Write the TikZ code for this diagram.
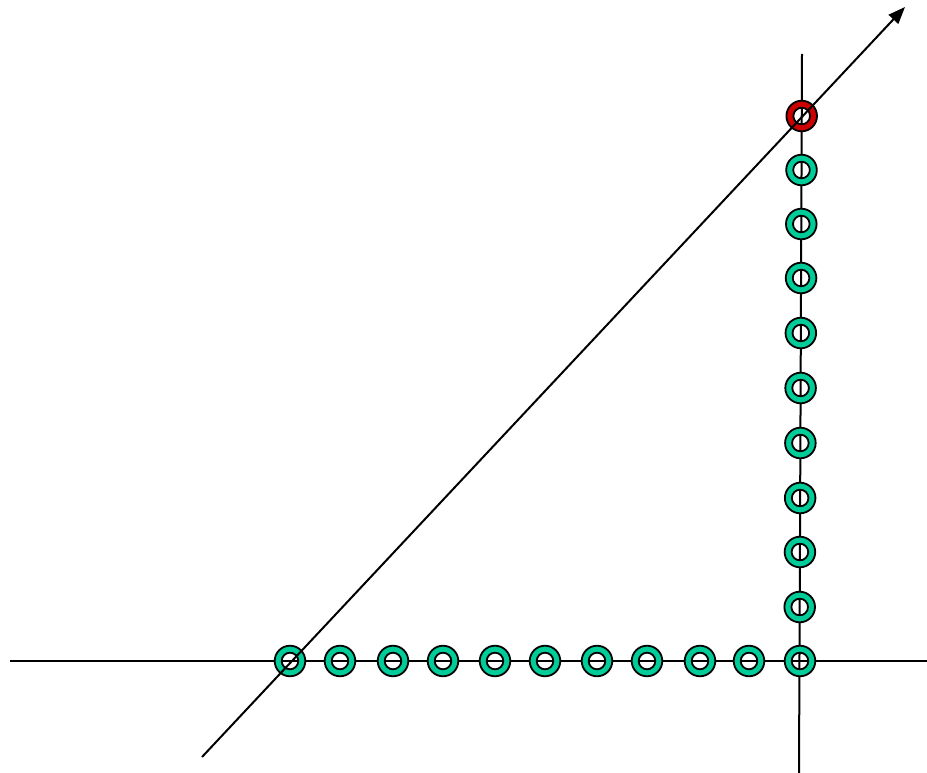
\documentclass[tikz,border=0pt]{standalone}
\usetikzlibrary{arrows.meta}
\definecolor{ringteal}{HTML}{00CC99}
\definecolor{ringred}{HTML}{CC0000}
\tikzset{
  axisline/.style={line width=2pt,black},
  ring/.style={fill=#1,draw=black,line width=1.8pt,even odd rule}
}
\begin{document}
\begin{tikzpicture}[x=1pt,y=-1pt]
  \useasboundingbox (0,0) rectangle (927,773);
  % axes
  \coordinate (hleft) at (10,661);
  \coordinate (hright) at (927,661);
  \coordinate (vtop) at (802,54);
  \coordinate (vbot) at (799,773);
  \coordinate (dstart) at (202,757);
  \coordinate (dtip) at (905,7);
  \draw[axisline] (hleft) -- (hright);
  \draw[axisline] (vtop) -- (vbot);
  % bottom row
  \foreach \x [count=\i] in {290,340,393,443,495,545,597,647,700,749,800} {
    \filldraw[ring=ringteal] (\x,661) circle (15.3) circle (8.3);
    \coordinate (h\i) at (\x,661);
  }
  % vertical column
  \foreach \y [count=\i] in {607,552,498,443,388,333,278,224,170} {
    \filldraw[ring=ringteal] ({799+3*(773-\y)/719},\y) circle (15.3) circle (8.3);
    \coordinate (v\i) at ({799+3*(773-\y)/719},\y);
  }
  \filldraw[ring=ringred] (801.7,116) circle (15.3) circle (8.3);
  \coordinate (vred) at (801.7,116);
  % diagonal
  \draw[axisline,-{Triangle[length=17pt,width=13pt]}] (dstart) -- (dtip);
\end{tikzpicture}
\end{document}
